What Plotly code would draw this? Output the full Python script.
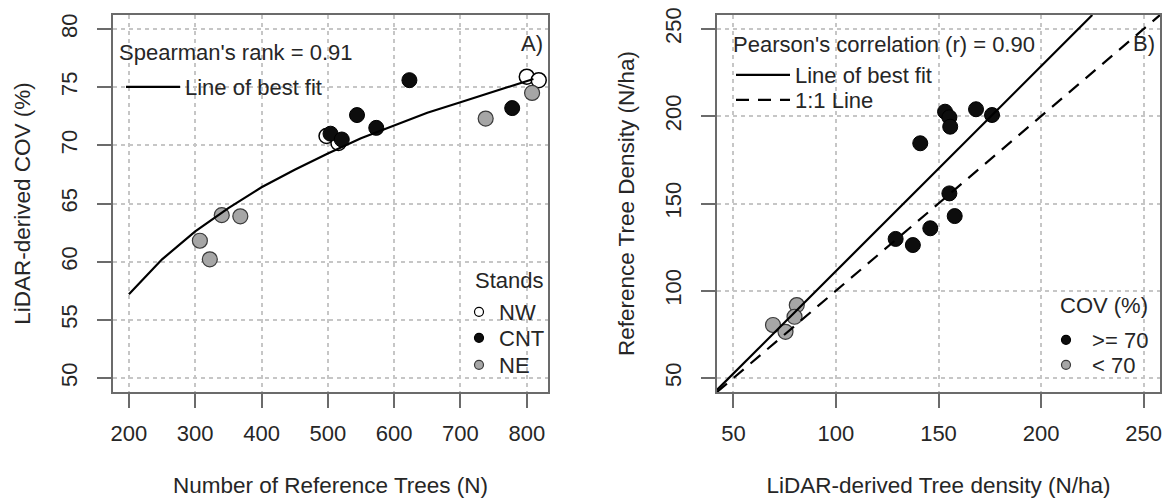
import plotly.graph_objects as go

# panel A: number of reference trees vs lidar-derived COV
nw_trees = [498, 516, 800, 818]
nw_cov = [70.8, 70.2, 75.9, 75.6]
cnt_trees = [504, 521, 544, 573, 623, 778]
cnt_cov = [71.0, 70.5, 72.6, 71.5, 75.6, 73.2]
ne_trees = [307, 322, 340, 368, 738, 808]
ne_cov = [61.8, 60.2, 64.0, 63.9, 72.3, 74.5]
fit_a_x = [200, 250, 300, 350, 400, 450, 500, 550, 600, 650, 700, 750, 800, 810]
fit_a_y = [57.2, 60.2, 62.6, 64.6, 66.4, 67.9, 69.3, 70.6, 71.7, 72.8, 73.7, 74.6, 75.5, 75.7]

# panel B: lidar-derived vs reference tree density
hi_lidar = [153.2, 155.3, 155.7, 168.3, 176.1, 141.1, 155.3, 157.9, 146.0, 129.1, 137.5]
hi_ref = [202.6, 199.4, 194.0, 204.0, 200.7, 184.5, 155.8, 142.8, 135.8, 129.7, 126.2]
lo_lidar = [69.3, 80.9, 79.8, 75.4]
lo_ref = [80.4, 91.8, 85.1, 76.5]
fit_b_x = [42, 225]
fit_b_y = [43.2, 258]
one_x = [42, 258]
one_y = [42, 258]

xticks_a = [200, 300, 400, 500, 600, 700, 800]
yticks_a = [50, 55, 60, 65, 70, 75, 80]
ticks_b = [50, 100, 150, 200, 250]

W, H = 1166, 499
FS = 22
FS_TITLE = 22.5
txt = '#262626'
frame = '#6b6b6b'
black = '#0d0d0d'
grey_fill = '#a6a6a6'
grey_edge = '#3a3a3a'

fig = go.Figure()

# panel A points
fig.add_trace(go.Scatter(x=nw_trees, y=nw_cov, mode='markers', showlegend=False,
                         marker=dict(size=15, color='white', line=dict(color='black', width=1.5))))
fig.add_trace(go.Scatter(x=cnt_trees, y=cnt_cov, mode='markers', showlegend=False,
                         marker=dict(size=15, color=black, line=dict(color='black', width=1))))
fig.add_trace(go.Scatter(x=ne_trees, y=ne_cov, mode='markers', showlegend=False,
                         marker=dict(size=15, color=grey_fill, line=dict(color=grey_edge, width=1.2))))
fig.add_trace(go.Scatter(x=fit_a_x, y=fit_a_y, mode='lines', name='Line of best fit',
                         legend='legend', line=dict(color='black', width=2.2)))

# panel A legend samples, one legend per entry so the rows sit where R put them
for nm, fc, lc, lg in [('NW', 'white', 'black', 'legend2'), ('CNT', black, 'black', 'legend3'),
                       ('NE', grey_fill, grey_edge, 'legend4')]:
    fig.add_trace(go.Scatter(x=[None], y=[None], mode='markers', name=nm, legend=lg,
                             marker=dict(size=9, color=fc, line=dict(color=lc, width=1.2))))

# panel B points
fig.add_trace(go.Scatter(x=hi_lidar, y=hi_ref, mode='markers', showlegend=False, xaxis='x2', yaxis='y2',
                         marker=dict(size=15, color=black, line=dict(color='black', width=1))))
fig.add_trace(go.Scatter(x=lo_lidar, y=lo_ref, mode='markers', showlegend=False, xaxis='x2', yaxis='y2',
                         marker=dict(size=15, color=grey_fill, line=dict(color=grey_edge, width=1.2))))
fig.add_trace(go.Scatter(x=fit_b_x, y=fit_b_y, mode='lines', name='Line of best fit', legend='legend5',
                         xaxis='x2', yaxis='y2', line=dict(color='black', width=2.2)))
fig.add_trace(go.Scatter(x=one_x, y=one_y, mode='lines', name='1:1 Line', legend='legend6',
                         xaxis='x2', yaxis='y2', line=dict(color='black', width=2.2, dash='13px,9px')))

for nm, fc, lc, lg in [(' >= 70', black, 'black', 'legend7'), (' < 70', grey_fill, grey_edge, 'legend8')]:
    fig.add_trace(go.Scatter(x=[None], y=[None], mode='markers', name=nm, legend=lg,
                             xaxis='x2', yaxis='y2',
                             marker=dict(size=9, color=fc, line=dict(color=lc, width=1.2))))

axis_common = dict(showline=True, mirror=True, linecolor=frame, linewidth=2,
                   ticks='outside', ticklen=14, tickwidth=2, tickcolor=frame,
                   showgrid=True, gridcolor='#c6c6c6', gridwidth=1.5, griddash='4px,4px',
                   zeroline=False, automargin=False, tickfont=dict(size=FS, color=txt))

ydom = [1 - 392 / H, 1 - 15 / H]


def leg(px, py, width=30):
    return dict(x=px / W, y=1 - py / H, xanchor='left', yanchor='middle', itemwidth=width,
                bgcolor='rgba(0,0,0,0)', font=dict(size=FS, color=txt))


def note(text, px, py, anchor='left'):
    return dict(text=text, xref='paper', yref='paper', x=px / W, y=1 - py / H, xanchor=anchor,
                yanchor='middle', showarrow=False, font=dict(size=FS, color=txt))


def ax_title(text, standoff):
    return dict(text=text, standoff=standoff, font=dict(size=FS_TITLE, color=txt))


fig.update_layout(
    width=W, height=H,
    margin=dict(l=0, r=0, t=0, b=0),
    paper_bgcolor='white', plot_bgcolor='white',
    font=dict(family='Liberation Sans, Arial, sans-serif', size=FS, color=txt),
    xaxis=dict(axis_common, domain=[113 / W, 548 / W], range=[176, 832], tickvals=xticks_a,
               ticklabelstandoff=7, title=ax_title('Number of Reference Trees (N)', 32)),
    yaxis=dict(axis_common, domain=ydom, range=[48.8, 81.2], tickvals=yticks_a, tickangle=-90,
               ticklabelstandoff=11, title=ax_title('LiDAR-derived COV (%)', 20)),
    xaxis2=dict(axis_common, domain=[717 / W, 1160 / W], range=[42, 258], tickvals=ticks_b,
                anchor='y2', ticklabelstandoff=7,
                title=ax_title('LiDAR-derived Tree density (N/ha)', 32)),
    yaxis2=dict(axis_common, domain=ydom, range=[42, 258], tickvals=ticks_b, tickangle=-90,
                anchor='x2', ticklabelstandoff=11, title=ax_title('Reference Tree Density (N/ha)', 20)),
    legend=leg(121, 87, 54),
    legend2=leg(459, 312),
    legend3=leg(459, 338),
    legend4=leg(459, 365),
    legend5=leg(731, 75, 54),
    legend6=leg(731, 100, 54),
    legend7=leg(1046, 340),
    legend8=leg(1046, 365),
    annotations=[
        note("Spearman's rank = 0.91", 117, 52),
        note('Stands', 509, 280, 'center'),
        note("Pearson's correlation (r) = 0.90", 731, 45),
        note('COV (%)', 1104, 305, 'center'),
        dict(text='A)', xref='x domain', yref='y domain', x=1, y=1, xanchor='right', yanchor='top',
             xshift=-3, yshift=-14, showarrow=False, font=dict(size=FS, color=txt)),
        dict(text='B)', xref='x2 domain', yref='y2 domain', x=1, y=1, xanchor='right', yanchor='top',
             xshift=-3, yshift=-14, showarrow=False, font=dict(size=FS, color=txt)),
    ],
)

fig.write_html('out.html', config={'displayModeBar': False},
               post_script="document.body.style.margin='0px';")
